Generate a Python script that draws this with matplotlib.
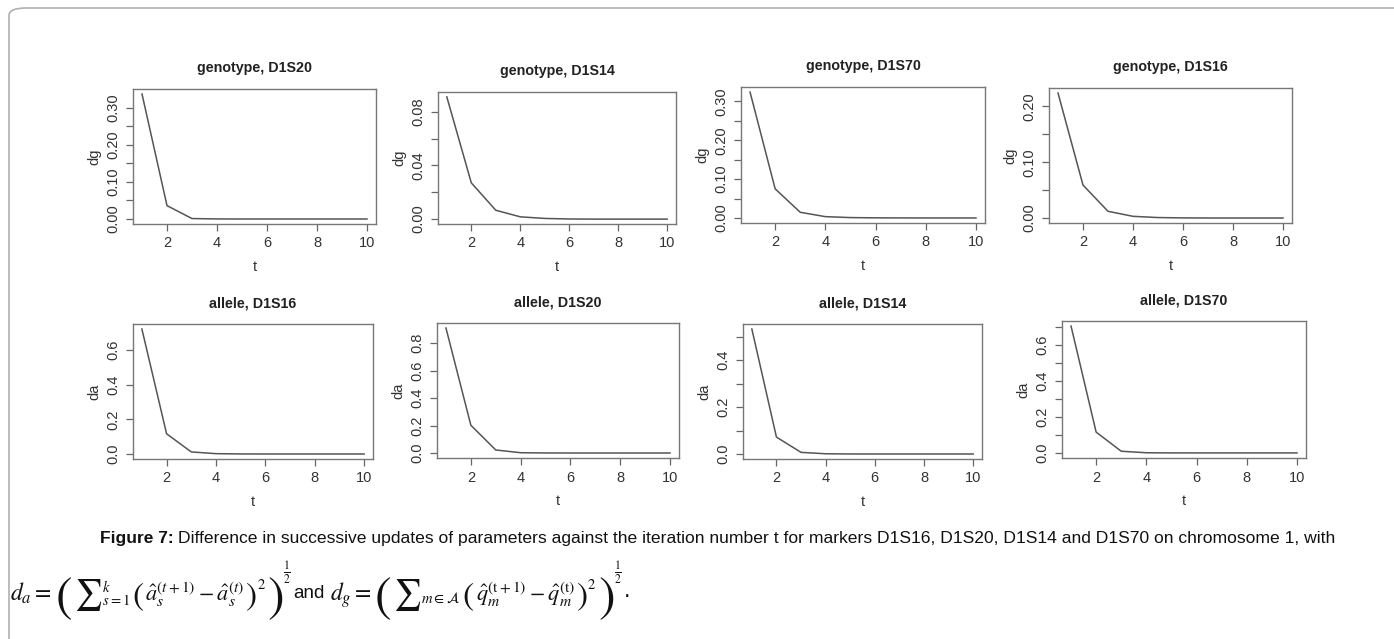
import matplotlib.pyplot as plt
from matplotlib.patches import FancyBboxPatch

plt.rcParams['font.family'] = ['Liberation Sans', 'DejaVu Sans']
plt.rcParams['mathtext.fontset'] = 'stix'

W, H = 1394, 639

t = [1, 2, 3, 4, 5, 6, 7, 8, 9, 10]

titles = ["genotype, D1S20", "genotype, D1S14", "genotype, D1S70", "genotype, D1S16",
          "allele, D1S16", "allele, D1S20", "allele, D1S14", "allele, D1S70"]
ylabels = ["dg", "dg", "dg", "dg", "da", "da", "da", "da"]

values = [
    [0.337, 0.036, 0.0012, 0.0002, 0.0, 0.0, 0.0, 0.0, 0.0, 0.0],
    [0.091, 0.027, 0.0066, 0.0017, 0.0005, 0.0001, 0.0, 0.0, 0.0, 0.0],
    [0.324, 0.075, 0.0146, 0.0034, 0.001, 0.0003, 0.0001, 0.0, 0.0, 0.0],
    [0.224, 0.059, 0.012, 0.003, 0.0008, 0.0002, 0.0, 0.0, 0.0, 0.0],
    [0.723, 0.117, 0.012, 0.002, 0.0003, 0.0, 0.0, 0.0, 0.0, 0.0],
    [0.910, 0.202, 0.022, 0.002, 0.0003, 0.0, 0.0, 0.0, 0.0, 0.0],
    [0.532, 0.072, 0.007, 0.001, 0.0001, 0.0, 0.0, 0.0, 0.0, 0.0],
    [0.707, 0.116, 0.0094, 0.001, 0.0001, 0.0, 0.0, 0.0, 0.0, 0.0],
]

# y ticks (all) and which of them carry a label
yticks = [
    [0.00, 0.05, 0.10, 0.15, 0.20, 0.25, 0.30],
    [0.00, 0.02, 0.04, 0.06, 0.08],
    [0.00, 0.05, 0.10, 0.15, 0.20, 0.25, 0.30],
    [0.00, 0.05, 0.10, 0.15, 0.20],
    [0.0, 0.2, 0.4, 0.6],
    [0.0, 0.2, 0.4, 0.6, 0.8],
    [0.0, 0.1, 0.2, 0.3, 0.4, 0.5],
    [0.0, 0.1, 0.2, 0.3, 0.4, 0.5, 0.6, 0.7],
]
ytick_labels = [
    ["0.00", "", "0.10", "", "0.20", "", "0.30"],
    ["0.00", "", "0.04", "", "0.08"],
    ["0.00", "", "0.10", "", "0.20", "", "0.30"],
    ["0.00", "", "0.10", "", "0.20"],
    ["0.0", "0.2", "0.4", "0.6"],
    ["0.0", "0.2", "0.4", "0.6", "0.8"],
    ["0.0", "", "0.2", "", "0.4", ""],
    ["0.0", "", "0.2", "", "0.4", "", "0.6", ""],
]
xticks = [2, 4, 6, 8, 10]

# axes boxes in pixels: left, top, right, bottom
boxes = [
    (133, 89, 376, 224), (438, 92, 676, 224), (741, 87, 985, 223), (1049, 88, 1292, 223),
    (133, 324, 373, 459), (437, 323, 679, 458), (743, 324, 982, 459), (1062, 321, 1306, 458),
]

fig = plt.figure(figsize=(W / 100, H / 100), dpi=100)

# rounded page border
fig.patches.append(FancyBboxPatch((9 / W, -0.2), 1.2, 1 - 8 / H + 0.2,
                                  boxstyle="round,pad=0,rounding_size=0.012",
                                  transform=fig.transFigure, fill=False,
                                  edgecolor='#b0b0b0', linewidth=1.2))

for i in range(8):
    l, tp, r, b = boxes[i]
    ax = fig.add_axes([l / W, 1 - b / H, (r - l) / W, (b - tp) / H])
    ax.plot(t, values[i], color='#555555', linewidth=1.1)
    ax.margins(x=0.04, y=0.04)
    ax.set_xticks(xticks)
    ax.set_yticks(yticks[i])
    ax.set_yticklabels(ytick_labels[i], rotation=90, va='center')
    ax.tick_params(colors='#666666', labelcolor='#333333', labelsize=10.5,
                   direction='out', length=5, width=0.9, pad=4)
    for s in ax.spines.values():
        s.set_color('#777777')
        s.set_linewidth(1.0)
    ax.set_title(titles[i], fontsize=10.3, fontweight='bold', color='#222222', pad=12)
    ax.set_xlabel('t', fontsize=10.5, color='#333333', labelpad=7)
    ax.set_ylabel(ylabels[i], fontsize=10.5, color='#333333', labelpad=4)

renderer = fig.canvas.get_renderer()

head = fig.text(100 / W, 1 - 538 / H, "Figure 7:", fontsize=12.5, fontweight='bold',
                color='#111111', va='center')
hx = head.get_window_extent(renderer).x1 + 4
fig.text(hx / W, 1 - 538 / H,
         "Difference in successive updates of parameters against the iteration number t "
         "for markers D1S16, D1S20, D1S14 and D1S70 on chromosome 1, with",
         fontsize=12.6, color='#111111', va='center')

# formula, laid out piece by piece so that the brackets can be large
base = 601
pos = [10]


def put(s, size, dy=0, gap=1, **kw):
    txt = fig.text(pos[0] / W, 1 - (base + dy) / H, s, fontsize=size,
                   va='baseline', color='#111111', **kw)
    pos[0] = txt.get_window_extent(renderer).x1 + gap


def bracket_sum(lim, body):
    put(r"$($", 36, dy=10, gap=2)
    put(r"$\sum$", 22, dy=2, gap=0)
    put(r"${}" + lim + "$", 15, dy=-1, gap=2)
    put(r"$($", 24, dy=4, gap=1)
    put(body, 16, gap=1)
    put(r"$)$", 24, dy=4, gap=0)
    put(r"${}^{2}$", 15, dy=-7, gap=1)
    put(r"$)$", 36, dy=10, gap=0)
    put(r"$\frac{1}{2}$", 12, dy=-25, gap=2)


put(r"$d_a=$", 17, gap=3)
bracket_sum(r"_{s=1}^{k}", r"$\hat{a}_s^{(t+1)}-\hat{a}_s^{(t)}$")
put("and", 13.5, dy=-3, gap=5)
put(r"$d_g=$", 17, gap=3)
bracket_sum(r"_{m\in\mathcal{A}}", r"$\hat{q}_m^{(\mathrm{t}+1)}-\hat{q}_m^{(\mathrm{t})}$")
put(".", 17, dy=-4)

fig.savefig('out.png', dpi=100)
